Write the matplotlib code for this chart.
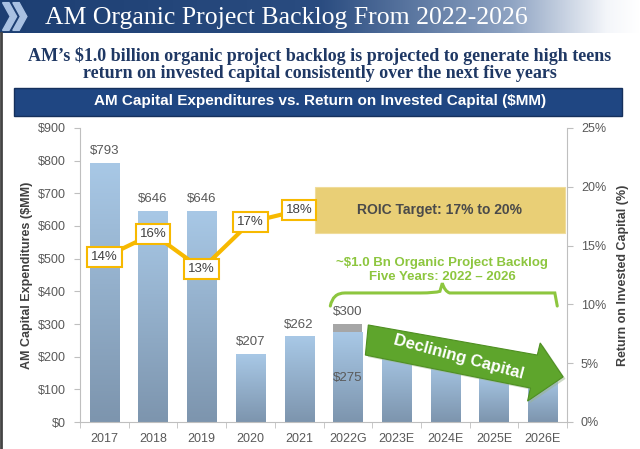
import numpy as np
import matplotlib
matplotlib.use("Agg")
import matplotlib.pyplot as plt
from matplotlib.colors import LinearSegmentedColormap
from matplotlib.patches import Rectangle, Polygon, PathPatch
from matplotlib.path import Path

categories = ["2017", "2018", "2019", "2020", "2021", "2022G", "2023E", "2024E", "2025E", "2026E"]
capex = [793, 646, 646, 207, 262, 275, 225, 190, 150, 135]
capex_extra = [0, 0, 0, 0, 0, 25, 0, 0, 0, 0]
capex_labels = ["$793", "$646", "$646", "$207", "$262", "$300", None, None, None, None]
roic_years = [0, 1, 2, 3, 4]
roic = [14, 16, 13, 17, 18]
roic_labels = ["14%", "16%", "13%", "17%", "18%"]
target_low, target_high = 16.1, 20

fig = plt.figure(figsize=(6.4, 4.49), dpi=100)
fig.patch.set_facecolor("white")

# ---- header band with gradient
hax = fig.add_axes([0, 1 - 33 / 449, 1, 33 / 449])
grad = np.linspace(0, 1, 256)[None, :]
hcmap = LinearSegmentedColormap.from_list("h", [(0, "#1d3f73"), (0.5, "#2a4c80"), (0.8, "#8fa4c3"), (0.95, "#f4f6fa"), (1, "#ffffff")])
hax.imshow(grad, aspect="auto", cmap=hcmap, extent=(0, 1, 0, 1))
hax.set_xlim(0, 1); hax.set_ylim(0, 1); hax.axis("off")
for dx in (0.004, 0.02):
    hax.add_patch(Polygon([(dx, 0.08), (dx + 0.01, 0.08), (dx + 0.022, 0.5), (dx + 0.01, 0.92), (dx, 0.92), (dx + 0.012, 0.5)],
                          closed=True, color="#a9c1e2"))
hax.text(0.07, 0.45, "AM Organic Project Backlog From 2022-2026", color="white", fontsize=18.5,
         family="Liberation Serif", va="center", ha="left", transform=hax.transAxes)

fig.text(0.5, 1 - 56 / 449, "AM\u2019s $1.0 billion organic project backlog is projected to generate high teens",
         ha="center", va="center", fontsize=13, fontweight="bold", family="Liberation Serif", color="#1f3864")
fig.text(0.5, 1 - 74 / 449, "return on invested capital consistently over the next five years",
         ha="center", va="center", fontsize=13, fontweight="bold", family="Liberation Serif", color="#1f3864")

# blue band
fig.patches.append(Rectangle((14 / 640, 1 - 116 / 449), 608 / 640, 28 / 449, transform=fig.transFigure,
                             facecolor="#1f4682", edgecolor="#15305c", lw=1))
fig.text(0.5, 1 - 101 / 449, "AM Capital Expenditures vs. Return on Invested Capital ($MM)",
         ha="center", va="center", fontsize=11, fontweight="bold", color="white", family="Liberation Sans")

# left border
fig.lines.append(plt.Line2D([0.002, 0.002], [0, 1 - 33 / 449], transform=fig.transFigure, color="#444444", lw=2))

# ---- main axes
ax = fig.add_axes([80 / 640, 1 - 422 / 449, 487 / 640, 294 / 449])
x = np.arange(len(categories))
w = 0.6
bcmap = LinearSegmentedColormap.from_list("b", ["#7d95ae", "#a8c8e6"])
for xi, h in zip(x, capex):
    r = Rectangle((xi - w / 2, 0), w, h, facecolor="none", edgecolor="none")
    ax.add_patch(r)
    im = ax.imshow(np.linspace(0, 1, 100)[:, None], origin="lower", aspect="auto", cmap=bcmap,
                   extent=(xi - w / 2, xi + w / 2, 0, h), zorder=2)
    im.set_clip_path(r)
for xi, h, e in zip(x, capex, capex_extra):
    if e:
        ax.bar(xi, e, w, bottom=h, color="#a6a6a6", zorder=2)
for xi, h, e, lab in zip(x, capex, capex_extra, capex_labels):
    if lab:
        ax.text(xi, h + e + 18, lab, ha="center", va="bottom", fontsize=9.5, color="#595959", family="Liberation Sans")
ax.text(5, 135, "$275", ha="center", va="center", fontsize=9.5, color="#595959", family="Liberation Sans", zorder=3)

ax.set_xlim(-0.5, 9.5)
ax.set_ylim(0, 900)
ax.set_yticks(np.arange(0, 901, 100))
ax.set_yticklabels([f"${v}" for v in range(0, 901, 100)])
ax.set_xticks(x)
ax.set_xticklabels(categories)
ax.set_xticks(np.arange(-0.5, 10, 1), minor=True)
ax.tick_params(axis="x", which="major", length=0, pad=8, labelsize=9, labelcolor="#595959")
ax.tick_params(axis="x", which="minor", length=4, color="#bfbfbf", direction="out")
ax.tick_params(axis="y", length=4, color="#bfbfbf", labelsize=9, labelcolor="#595959", pad=6)
for s in ("top", "right"):
    ax.spines[s].set_visible(False)
for s in ("left", "bottom"):
    ax.spines[s].set_color("#bfbfbf")
ax.set_ylabel("AM Capital Expenditures ($MM)", fontsize=9, fontweight="bold", color="#404040", labelpad=4,
              family="Liberation Sans")
for lab in ax.get_xticklabels() + ax.get_yticklabels():
    lab.set_family("Liberation Sans")

# curly brace
bx0, bx1, bxm = 4.64, 9.30, 6.94
yb, yf, yt = 355, 395, 425
verts = [(bx0, yb), (bx0 + 0.05, yf), (bx0 + 0.3, yf), (bx0 + 0.7, yf),
         (bxm - 0.45, yf), (bxm - 0.15, yf), (bxm - 0.05, yf + 5), (bxm, yt),
         (bxm + 0.05, yf + 5), (bxm + 0.15, yf), (bxm + 0.45, yf),
         (bx1 - 0.7, yf), (bx1 - 0.3, yf), (bx1 - 0.05, yf), (bx1, yb)]
codes = [Path.MOVETO, Path.CURVE3, Path.CURVE3, Path.LINETO,
         Path.LINETO, Path.CURVE3, Path.CURVE3, Path.LINETO,
         Path.CURVE3, Path.CURVE3, Path.LINETO,
         Path.LINETO, Path.CURVE3, Path.CURVE3, Path.LINETO]
ax.add_patch(PathPatch(Path(verts, codes), fill=False, edgecolor="#8dc63f", lw=2.2, zorder=4, capstyle="round"))
ax.text(bxm, 487, "~$1.0 Bn Organic Project Backlog", ha="center", va="center", fontsize=9.5,
        fontweight="bold", color="#8dc63f", family="Liberation Sans", zorder=4)
ax.text(bxm, 444, "Five Years: 2022 \u2013 2026", ha="center", va="center", fontsize=9.5,
        fontweight="bold", color="#8dc63f", family="Liberation Sans", zorder=4)

# declining arrow
arrow_pts = [(5.42, 297), (8.89, 205), (8.95, 242), (9.42, 138), (8.69, 64), (8.75, 104), (5.36, 205)]
shadow = [(px + 0.05, py - 6) for px, py in arrow_pts]
ax.add_patch(Polygon(shadow, closed=True, facecolor="#9ab58a", edgecolor="none", alpha=0.5, zorder=4))
ax.add_patch(Polygon(arrow_pts, closed=True, facecolor="#5ea52c", edgecolor="#4f8f22", lw=0.8, zorder=5))
ax.text(7.27, 198, "Declining Capital", rotation=-15, ha="center", va="center", fontsize=12,
        fontweight="bold", color="white", family="Liberation Sans", zorder=6, rotation_mode="anchor")

# ---- right axis
ax2 = ax.twinx()
ax2.set_ylim(0, 25)
ax2.set_yticks(np.arange(0, 26, 5))
ax2.set_yticklabels([f"{v}%" for v in range(0, 26, 5)])
ax2.tick_params(axis="y", length=4, color="#bfbfbf", labelsize=9, labelcolor="#595959", pad=6)
for s in ("top", "left", "bottom"):
    ax2.spines[s].set_visible(False)
ax2.spines["right"].set_color("#bfbfbf")
ax2.set_ylabel("Return on Invested Capital (%)", fontsize=9, fontweight="bold", color="#404040",
               family="Liberation Sans", labelpad=8)
for lab in ax2.get_yticklabels():
    lab.set_family("Liberation Sans")

ax2.add_patch(Rectangle((4.33, target_low), 9.45 - 4.33, target_high - target_low, facecolor="#e9cf76",
                        edgecolor="#f0dc9a", lw=0.8, zorder=1))
ax2.text((4.33 + 9.45) / 2, (target_low + target_high) / 2, "ROIC Target: 17% to 20%", ha="center", va="center",
         fontsize=10, fontweight="bold", color="#4a4a4a", family="Liberation Sans", zorder=2)

ax2.plot(roic_years, roic, color="#f7b900", lw=3, zorder=3)
for xi, v, lab in zip(roic_years, roic, roic_labels):
    ax2.text(xi, v, lab, ha="center", va="center", fontsize=9.5, color="#404040", family="Liberation Sans", zorder=4,
             bbox=dict(boxstyle="square,pad=0.3", facecolor="white", edgecolor="#f7b900", lw=1.5))

ax2.set_xlim(-0.5, 9.5)
fig.savefig("out.png", dpi=100)
